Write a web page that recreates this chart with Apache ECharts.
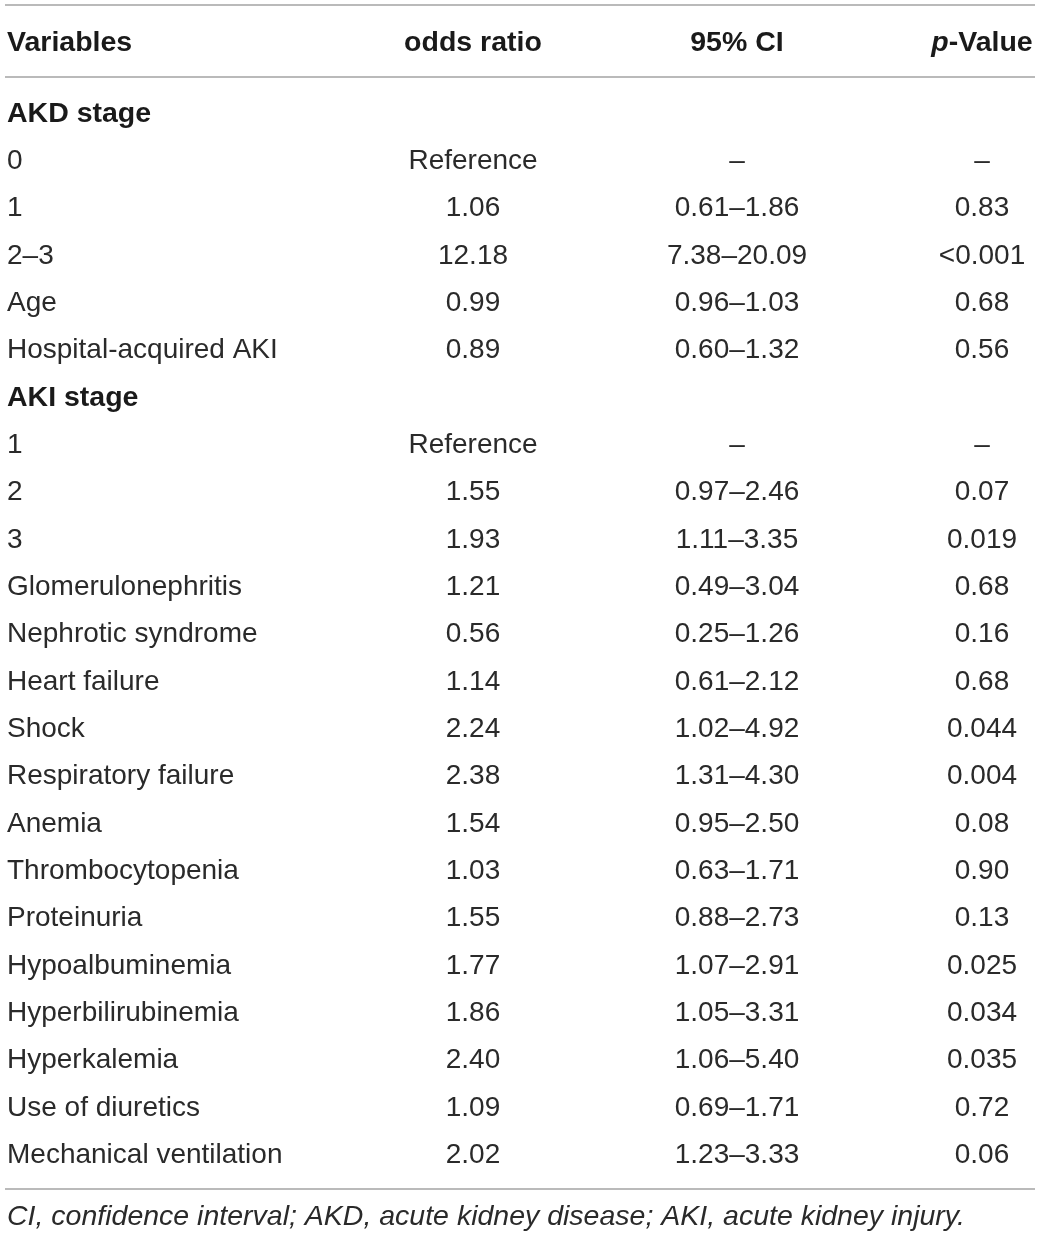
<!DOCTYPE html>
<html lang="en">
<head>
    <meta charset="UTF-8">
    <title>Odds ratios</title>
    <style>
        html, body { margin: 0; padding: 0; background: #fff; }
        #main { width: 1040px; height: 1238px; }
    </style>
</head>
<body>
    <div id="main"></div>
    <script src="https://cdn.jsdelivr.net/npm/echarts@6.0.0/dist/echarts.min.js"></script>
    <script>
        const headers = ['Variables', 'odds ratio', '95% CI', 'p-Value'];
        const sections = ['AKD stage', 'AKI stage'];
        const variables = ['AKD stage', '0', '1', '2\u20133', 'Age', 'Hospital-acquired AKI',
            'AKI stage', '1', '2', '3', 'Glomerulonephritis', 'Nephrotic syndrome', 'Heart failure',
            'Shock', 'Respiratory failure', 'Anemia', 'Thrombocytopenia', 'Proteinuria',
            'Hypoalbuminemia', 'Hyperbilirubinemia', 'Hyperkalemia', 'Use of diuretics',
            'Mechanical ventilation'];
        const oddsRatio = ['', 'Reference', '1.06', '12.18', '0.99', '0.89',
            '', 'Reference', '1.55', '1.93', '1.21', '0.56', '1.14', '2.24', '2.38', '1.54',
            '1.03', '1.55', '1.77', '1.86', '2.40', '1.09', '2.02'];
        const ciLow = ['', '', '0.61', '7.38', '0.96', '0.60',
            '', '', '0.97', '1.11', '0.49', '0.25', '0.61', '1.02', '1.31', '0.95',
            '0.63', '0.88', '1.07', '1.05', '1.06', '0.69', '1.23'];
        const ciHigh = ['', '', '1.86', '20.09', '1.03', '1.32',
            '', '', '2.46', '3.35', '3.04', '1.26', '2.12', '4.92', '4.30', '2.50',
            '1.71', '2.73', '2.91', '3.31', '5.40', '1.71', '3.33'];
        const pValue = ['', '\u2013', '0.83', '<0.001', '0.68', '0.56',
            '', '\u2013', '0.07', '0.019', '0.68', '0.16', '0.68', '0.044', '0.004', '0.08',
            '0.90', '0.13', '0.025', '0.034', '0.035', '0.72', '0.06'];
        const footnote = 'CI, confidence interval; AKD, acute kidney disease; AKI, acute kidney injury.';

        // column anchors (px across the 1040 wide layout axis)
        const colX = [7, 473, 737, 982];
        const FONT = 'Liberation Sans, Arial, sans-serif';
        const ruleColor = '#a3a3a3';

        function ciText(i) {
            if (oddsRatio[i] === 'Reference') return '\u2013';
            if (!ciLow[i]) return '';
            return ciLow[i] + '\u2013' + ciHigh[i];
        }

        const chart = echarts.init(document.getElementById('main'));
        chart.setOption({
            animation: false,
            grid: { left: 0, right: 0, top: 90.3, bottom: 59.1 },
            xAxis: { type: 'value', min: 0, max: 1040, show: false },
            yAxis: { type: 'category', data: variables, inverse: true, show: false },
            series: [{
                type: 'custom',
                data: variables.map((v, i) => [0, i]),
                renderItem: function (params, api) {
                    const i = api.value(1);
                    const y = api.coord([0, i])[1];
                    const isSection = sections.indexOf(variables[i]) >= 0 && oddsRatio[i] === '';
                    const base = {
                        fontFamily: FONT, fontSize: 28, fill: '#2a2a2a',
                        verticalAlign: 'middle'
                    };
                    const cells = [variables[i], oddsRatio[i], ciText(i), pValue[i]];
                    return {
                        type: 'group',
                        children: cells.map((t, c) => ({
                            type: 'text',
                            style: Object.assign({}, base, {
                                text: t,
                                x: api.coord([colX[c], i])[0],
                                y: y,
                                align: c === 0 ? 'left' : 'center',
                                fontWeight: isSection ? 'bold' : 'normal',
                                fontSize: isSection ? 28.5 : 28,
                                fill: isSection ? '#1a1a1a' : '#2a2a2a'
                            })
                        }))
                    };
                }
            }],
            graphic: [
                { type: 'line', shape: { x1: 5, y1: 5, x2: 1035, y2: 5 }, style: { stroke: ruleColor, lineWidth: 1.5 } },
                { type: 'line', shape: { x1: 5, y1: 77, x2: 1035, y2: 77 }, style: { stroke: ruleColor, lineWidth: 1.5 } },
                { type: 'line', shape: { x1: 5, y1: 1189, x2: 1035, y2: 1189 }, style: { stroke: ruleColor, lineWidth: 1.5 } }
            ].concat(headers.map((h, c) => ({
                type: 'text',
                x: colX[c], y: 43.5,
                style: {
                    text: h === 'p-Value' ? '{i|p}-Value' : h,
                    align: c === 0 ? 'left' : 'center',
                    verticalAlign: 'middle',
                    fontFamily: FONT, fontSize: 28.5, fontWeight: 'bold', fill: '#1a1a1a',
                    rich: { i: { fontStyle: 'italic', fontWeight: 'bold', fontFamily: FONT, fontSize: 28.5, fill: '#1a1a1a' } }
                }
            }))).concat([{
                type: 'text',
                x: 7, y: 1217,
                style: {
                    text: footnote, align: 'left', verticalAlign: 'middle',
                    fontFamily: FONT, fontSize: 28.5, fontStyle: 'italic', fill: '#2a2a2a'
                }
            }])
        });
    </script>
</body>
</html>
